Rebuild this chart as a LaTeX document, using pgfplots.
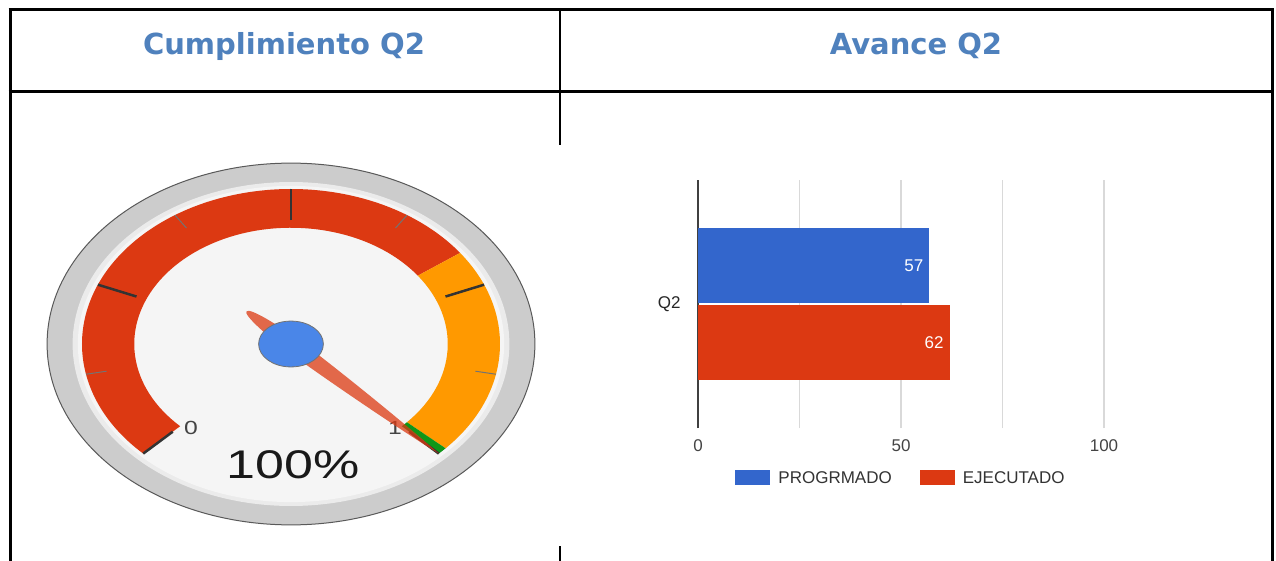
\documentclass[border=0pt]{standalone}
\usepackage{fontspec}
\setmainfont{Liberation Sans}
\newfontfamily\hdrfont{DejaVu Sans}
\usepackage{pgfplots}
\pgfplotsset{compat=1.18}
\definecolor{hdrblue}{HTML}{4F81BD}
\definecolor{gred}{HTML}{DC3912}
\definecolor{gblue}{HTML}{3366CC}
\definecolor{gorange}{HTML}{FF9900}
\definecolor{ggreen}{HTML}{109618}
\definecolor{hub}{HTML}{4A86E8}
\definecolor{gridc}{HTML}{D9D9D9}
\definecolor{txt}{HTML}{444444}
\definecolor{face}{HTML}{F5F5F5}
\definecolor{rim}{HTML}{CCCCCC}

% gauge value (1 = 100%) and the needle angle it gives
\def\gval{1.0}
\pgfmathsetmacro\ang{225-270*\gval}
\pgfmathsetmacro\ca{cos(\ang)}
\pgfmathsetmacro\sa{sin(\ang)}
\newcommand\nd[2]{(axis cs:{(#1)*\ca-(#2)*\sa},{(#1)*\sa+(#2)*\ca})}

\begin{document}
\begin{tikzpicture}
\useasboundingbox (0pt,0pt) rectangle (1276pt,-561pt);
\fill[white] (0pt,0pt) rectangle (1276pt,-561pt);

% table frame and headers
\begin{scope}[x=1pt,y=-1pt]
\draw[line width=3pt] (8.5,10) -- (1273.5,10);
\draw[line width=3pt] (8.5,92) -- (1273.5,92);
\draw[line width=3pt] (10,10) -- (10,561);
\draw[line width=3pt] (1272,10) -- (1272,561);
\draw[line width=2.5pt] (560,10) -- (560,145);
\draw[line width=2.5pt] (560,546) -- (560,561);
\node[anchor=base, text=hdrblue, inner sep=0pt,
  font=\hdrfont\bfseries\fontsize{29}{32}\selectfont] at (284,55) {Cumplimiento Q2};
\node[anchor=base, text=hdrblue, inner sep=0pt,
  font=\hdrfont\bfseries\fontsize{29}{32}\selectfont] at (916,55) {Avance Q2};
\end{scope}

% gauge
\begin{axis}[at={(291pt,-344pt)}, anchor=origin, x=209pt, y=155pt,
  xmin=-1.2, xmax=1.2, ymin=-1.2, ymax=1.2, hide axis, clip=false,
  disabledatascaling]
\fill[rim, draw=black!65, line width=1pt] (axis cs:0,0) ellipse [x radius=1.167, y radius=1.167];
\fill[black!8] (axis cs:0,0) ellipse [x radius=1.045, y radius=1.045];
\fill[face] (axis cs:0,0) ellipse [x radius=1.02, y radius=1.02];
\fill[gred] (axis cs:{cos(225)},{sin(225)}) arc[start angle=225, end angle=36, radius=1]
  -- (axis cs:{0.75*cos(36)},{0.75*sin(36)}) arc[start angle=36, end angle=225, radius=0.75] -- cycle;
\fill[gorange] (axis cs:{cos(36)},{sin(36)}) arc[start angle=36, end angle=-42.3, radius=1]
  -- (axis cs:{0.75*cos(-42.3)},{0.75*sin(-42.3)}) arc[start angle=-42.3, end angle=36, radius=0.75] -- cycle;
\fill[ggreen] (axis cs:{cos(-42.3)},{sin(-42.3)}) arc[start angle=-42.3, end angle=-45, radius=1]
  -- (axis cs:{0.75*cos(-45)},{0.75*sin(-45)}) arc[start angle=-45, end angle=-42.3, radius=0.75] -- cycle;
\pgfplotsinvokeforeach{225,157.5,90,22.5,-45}{
  \draw[black!80, line width=2.5pt] (axis cs:{0.8*cos(#1)},{0.8*sin(#1)}) -- (axis cs:{cos(#1)},{sin(#1)});
}
\pgfplotsinvokeforeach{191.25,123.75,56.25,-11.25}{
  \draw[black!55, line width=1pt] (axis cs:{0.9*cos(#1)},{0.9*sin(#1)}) -- (axis cs:{cos(#1)},{sin(#1)});
}
\node[anchor=base, xscale=1.3, text=txt, font=\fontsize{19}{22}\selectfont] at (axis cs:-0.478,-0.581) {0};
\node[anchor=base, xscale=1.3, text=txt, font=\fontsize{19}{22}\selectfont] at (axis cs:0.498,-0.581) {1};
\node[anchor=base, xscale=1.3, text=black!90, font=\fontsize{40}{44}\selectfont] at (axis cs:0.01,-0.865) {100\%};
\fill[gred, fill opacity=0.75] \nd{-0.3}{0} .. controls \nd{-0.3}{0.028} and \nd{-0.12}{0.045} .. \nd{0.05}{0.045}
  .. controls \nd{0.4}{0.04} and \nd{0.85}{0.015} .. \nd{1.0}{0}
  .. controls \nd{0.85}{-0.015} and \nd{0.4}{-0.04} .. \nd{0.05}{-0.045}
  .. controls \nd{-0.12}{-0.045} and \nd{-0.3}{-0.028} .. cycle;
\fill[hub, draw=black!55, line width=0.8pt] (axis cs:0,0) ellipse [x radius=0.155, y radius=0.148];
\end{axis}

% bar chart
\begin{axis}[at={(698pt,-428pt)}, anchor=south west, scale only axis,
  width=406pt, height=248pt,
  xbar, xmin=0, xmax=100, ymin=-1, ymax=1, bar width=0.605,
  xtick={0,50,100}, minor xtick={25,75}, ytick={0}, yticklabels={Q2},
  xmajorgrids, xminorgrids,
  major grid style={gridc, line width=1.2pt},
  minor grid style={gridc, line width=1.2pt},
  major tick length=0pt, minor tick length=0pt,
  axis lines=left, axis line style={-},
  x axis line style={draw=none},
  y axis line style={draw=black!75, line width=1.5pt},
  /pgf/number format/assume math mode=true,
  tick label style={font=\fontsize{17}{20}\selectfont, text=txt},
  xticklabel style={yshift=-8pt},
  yticklabel style={xshift=-14pt, text=black!85},
  legend style={at={(0.5,-0.2016)}, anchor=center, draw=none, fill=none,
    legend columns=2, font=\fontsize{17}{20}\selectfont, text=black!80,
    /tikz/every odd column/.append style={column sep=6pt},
    /tikz/every even column/.append style={column sep=26pt}},
  every node near coord/.append style={anchor=east, xshift=-6pt, inner sep=0pt,
    text=white, font=\fontsize{17}{20}\selectfont},
  nodes near coords]
\addplot[fill=gblue, draw=none, bar shift=0.31,
  legend image code/.code={\fill[gblue] (0pt,-7.5pt) rectangle (35pt,7.5pt);}]
  coordinates {(57,0)};
\addlegendentry{PROGRMADO}
\addplot[fill=gred, draw=none, bar shift=-0.31,
  legend image code/.code={\fill[gred] (0pt,-7.5pt) rectangle (35pt,7.5pt);}]
  coordinates {(62,0)};
\addlegendentry{EJECUTADO}
\end{axis}
\end{tikzpicture}
\end{document}
